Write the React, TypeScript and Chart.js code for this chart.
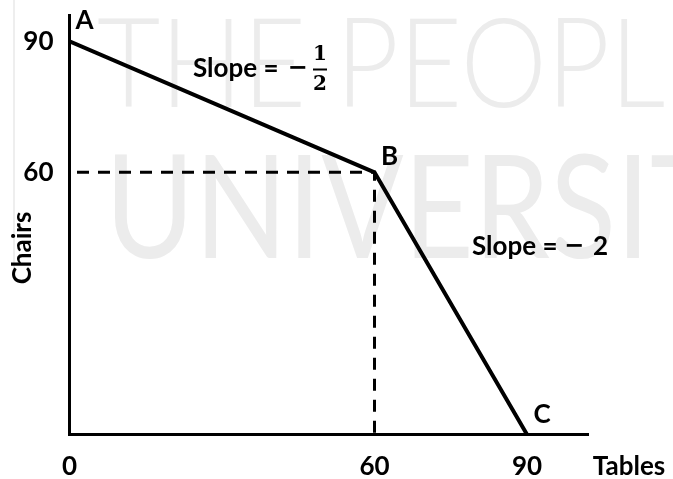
import React, { useEffect, useRef } from "react";
import { Chart, registerables } from "chart.js";

Chart.register(...registerables);

// ---- data ----
const tableValues = [0, 60, 90];
const chairValues = [90, 60, 0];
const pointNames = ["A", "B", "C"];
const guideTables = [0, 60, 60];
const guideChairs = [60, 60, 0];
const xTickValues = [0, 60, 90];
const yTickValues = [60, 90];
const xTitle = "Tables";
const yTitle = "Chairs";

const FONT = "Lato, 'Open Sans', sans-serif";

function drawSqueezed(ctx: any, text: string, x: number, y: number, targetWidth: number, measureText: string) {
  const w = ctx.measureText(measureText).width;
  const sx = targetWidth / w;
  ctx.save();
  ctx.translate(x, y);
  ctx.scale(sx, 1);
  ctx.fillText(text, 0, 0);
  ctx.restore();
}

const watermarkPlugin = {
  id: "watermark",
  beforeDraw(chart: any) {
    const ctx = chart.ctx;
    ctx.save();
    ctx.fillStyle = "#ffffff";
    ctx.fillRect(0, 0, chart.width, chart.height);
    ctx.fillStyle = "#ececec";
    ctx.textAlign = "left";
    ctx.textBaseline = "alphabetic";
    ctx.font = `300 124px ${FONT}`;
    drawSqueezed(ctx, "THE PEOPLE'S", 97, 107, 513, "THE PEOP");
    ctx.font = `400 144px ${FONT}`;
    drawSqueezed(ctx, "UNIVERSITY", 105, 258, 545, "UNIVERSI");
    ctx.strokeStyle = "#eeeeee";
    ctx.lineWidth = 2;
    ctx.beginPath();
    ctx.moveTo(14, 0);
    ctx.lineTo(14, 277);
    ctx.stroke();
    ctx.restore();
  },
};

const labelsPlugin = {
  id: "labels",
  afterDatasetsDraw(chart: any) {
    const ctx = chart.ctx;
    const xs = chart.scales.x;
    const ys = chart.scales.y;
    ctx.save();
    ctx.fillStyle = "#000";
    ctx.font = `bold 26px ${FONT}`;
    ctx.textBaseline = "middle";
    ctx.textAlign = "center";
    const dy = [-21, -16, -20];
    pointNames.forEach((n, i) => {
      const px = xs.getPixelForValue(tableValues[i]);
      const py = ys.getPixelForValue(chairValues[i]);
      ctx.fillText(n, px + 15, py + dy[i]);
    });
    // axis titles
    ctx.fillText(xTitle, 629, 467);
    ctx.save();
    ctx.translate(23, 248);
    ctx.rotate(-Math.PI / 2);
    ctx.fillText(yTitle, 0, 0);
    ctx.restore();
    // slope labels
    ctx.textAlign = "left";
    ctx.font = `bold 26px ${FONT}`;
    ctx.fillText("Slope =", 193, 69);
    ctx.fillText("Slope =", 472, 247);
    ctx.font = `bold 24px 'DejaVu Sans', sans-serif`;
    ctx.textAlign = "center";
    ctx.fillText("\u2212", 297.5, 69);
    ctx.fillText("\u2212", 574, 247);
    ctx.font = `bold 26px ${FONT}`;
    ctx.fillText("2", 600.5, 247);
    ctx.font = `bold 20px 'DejaVu Serif', serif`;
    ctx.fillText("1", 320, 55);
    ctx.fillText("2", 320, 85);
    ctx.lineWidth = 2;
    ctx.strokeStyle = "#000";
    ctx.beginPath();
    ctx.moveTo(313, 69.5);
    ctx.lineTo(327, 69.5);
    ctx.stroke();
    ctx.restore();
  },
};

export default function App() {
  const ref = useRef<HTMLCanvasElement | null>(null);
  useEffect(() => {
    document.body.style.margin = "0";
    const canvas = ref.current;
    if (!canvas) return;
    const tickFont = { family: FONT, size: 26, weight: "bold" as const };
    const chart = new Chart(canvas, {
      type: "line",
      data: {
        datasets: [
          {
            data: tableValues.map((x, i) => ({ x, y: chairValues[i] })),
            borderColor: "#000",
            borderWidth: 4,
            pointRadius: 0,
            tension: 0,
            borderJoinStyle: "miter",
            fill: false,
          },
          {
            data: guideTables.map((x, i) => ({ x, y: guideChairs[i] })),
            borderColor: "#000",
            borderWidth: 3,
            borderDash: [12, 9],
            borderDashOffset: 13.5,
            pointRadius: 0,
            tension: 0,
            fill: false,
          },
        ],
      },
      options: {
        responsive: false,
        animation: false,
        devicePixelRatio: 1,
        events: [],
        layout: { padding: { top: 15, right: 85, left: 0, bottom: 0 } },
        plugins: { legend: { display: false }, tooltip: { enabled: false }, title: { display: false } },
        scales: {
          x: {
            type: "linear",
            min: 0,
            max: 102,
            grid: { display: false, drawTicks: false },
            border: { display: true, color: "#000", width: 3 },
            ticks: { color: "#000", font: tickFont, padding: 17, maxRotation: 0 },
            afterBuildTicks: (s: any) => {
              s.ticks = xTickValues.map((v) => ({ value: v }));
            },
            afterFit: (s: any) => {
              s.height = 44.5;
              s.paddingLeft = 0;
              s.paddingRight = 0;
            },
          },
          y: {
            type: "linear",
            min: 0,
            max: 96,
            grid: { display: false, drawTicks: false },
            border: { display: true, color: "#000", width: 3 },
            ticks: { color: "#000", font: tickFont, padding: 16 },
            afterBuildTicks: (s: any) => {
              s.ticks = yTickValues.map((v) => ({ value: v }));
            },
            afterFit: (s: any) => {
              s.width = 69.5;
              s.paddingTop = 0;
              s.paddingBottom = 0;
            },
          },
        },
      },
      plugins: [watermarkPlugin, labelsPlugin],
    } as any);
    return () => chart.destroy();
  }, []);
  return (
    <div style={{ width: 673, height: 479 }}>
      <canvas ref={ref} width={673} height={479} style={{ display: "block" }} />
    </div>
  );
}
